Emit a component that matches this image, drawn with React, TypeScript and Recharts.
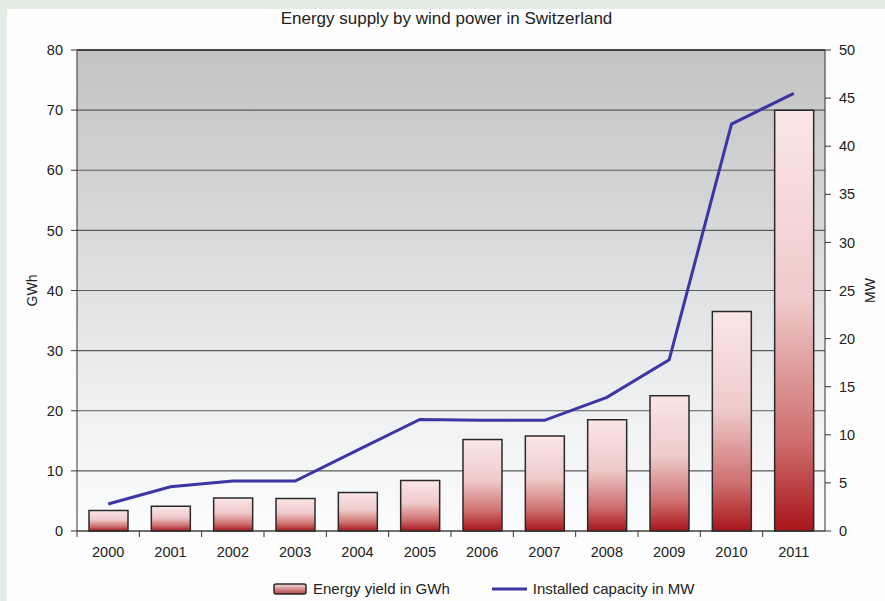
import { ComposedChart, Bar, Line, XAxis, YAxis, CartesianGrid, Legend, ReferenceLine } from 'recharts'

const years = ['2000', '2001', '2002', '2003', '2004', '2005', '2006', '2007', '2008', '2009', '2010', '2011']
const energyGWh = [3.4, 4.1, 5.5, 5.4, 6.4, 8.4, 15.2, 15.8, 18.5, 22.5, 36.5, 70]
const capacityMW = [2.8, 4.6, 5.2, 5.2, 8.4, 11.6, 11.5, 11.5, 13.9, 17.8, 42.3, 45.5]
const gwhTicks = [0, 10, 20, 30, 40, 50, 60, 70, 80]
const mwTicks = [0, 5, 10, 15, 20, 25, 30, 35, 40, 45, 50]

const data = years.map((year, i) => ({
  year,
  energy: energyGWh[i],
  capacity: capacityMW[i],
}))

const W = 885
const H = 601
const MARGIN = { top: 50, right: 0, bottom: 40, left: 17 }
const AXIS_W = 60
const PLOT_W = W - MARGIN.left - MARGIN.right - AXIS_W * 2
const FONT = '"Liberation Sans", Arial, sans-serif'
const TEXT = '#222'
const LINE_BLUE = '#3b36a3'

// year label centred in its band, small tick on the band's left edge
const YearTick = (props: any) => {
  const { x, y, payload } = props
  const band = PLOT_W / years.length
  return (
    <g>
      <line x1={x - band / 2} y1={y - 16} x2={x - band / 2} y2={y - 10} stroke="#333" strokeWidth={1} />
      <text x={x} y={y} dy="0.71em" textAnchor="middle" fill={TEXT} fontSize={14.5} fontFamily={FONT}>
        {payload.value}
      </text>
    </g>
  )
}

const sideLabel = (text: string, shift: number) => (props: any) => {
  const vb = props.viewBox
  const cx = vb.x + shift
  const cy = vb.y + vb.height / 2
  return (
    <text
      x={cx}
      y={cy}
      transform={`rotate(-90 ${cx} ${cy})`}
      textAnchor="middle"
      dominantBaseline="central"
      fill={TEXT}
      fontSize={14}
      fontFamily={FONT}
    >
      {text}
    </text>
  )
}

const renderLegend = () => (
  <div style={{ display: 'flex', alignItems: 'center', fontFamily: FONT, fontSize: 15, color: TEXT, paddingLeft: 273 }}>
    <svg width={34} height={12} style={{ marginRight: 6 }}>
      <rect x={1} y={1} width={32} height={10} rx={2} fill="url(#legendBar)" stroke="#2a2a2a" strokeWidth={1.5} />
    </svg>
    <span style={{ marginRight: 42 }}>Energy yield in GWh</span>
    <svg width={35} height={12} style={{ marginRight: 6 }}>
      <line x1={0} y1={6} x2={35} y2={6} stroke={LINE_BLUE} strokeWidth={3} />
    </svg>
    <span>Installed capacity in MW</span>
  </div>
)

export default function App() {
  return (
    <div style={{ position: 'absolute', left: 0, top: 0, width: W, height: H, background: '#e3ede5', overflow: 'hidden' }}>
      <div style={{ position: 'absolute', left: 7, top: 9, right: 0, bottom: 0, background: '#fdfdfd' }} />
      <svg width={0} height={0} style={{ position: 'absolute' }}>
        <defs>
          <linearGradient id="legendBar" x1="0" y1="0" x2="0" y2="1">
            <stop offset="0%" stopColor="#f6dede" />
            <stop offset="100%" stopColor="#b24040" />
          </linearGradient>
        </defs>
      </svg>
      <div
        style={{
          position: 'absolute',
          left: 0,
          top: 9,
          width: W,
          textAlign: 'center',
          fontFamily: FONT,
          fontSize: 17,
          color: TEXT,
          paddingLeft: 4,
        }}
      >
        Energy supply by wind power in Switzerland
      </div>
      <div style={{ position: 'absolute', left: 0, top: 0 }}>
        <ComposedChart width={W} height={H} data={data} margin={MARGIN} barSize={39}>
          <defs>
            <linearGradient id="plotBg" x1="0" y1="0" x2="0" y2="1">
              <stop offset="0%" stopColor="#c3c3c3" />
              <stop offset="35%" stopColor="#d6d7d8" />
              <stop offset="70%" stopColor="#eceef0" />
              <stop offset="100%" stopColor="#fbfcfd" />
            </linearGradient>
            <linearGradient id="barFill" x1="0" y1="0" x2="0" y2="1">
              <stop offset="0%" stopColor="#fae6e6" />
              <stop offset="45%" stopColor="#efcaca" />
              <stop offset="78%" stopColor="#cf7070" />
              <stop offset="100%" stopColor="#a8151a" />
            </linearGradient>
          </defs>
          <CartesianGrid yAxisId="left" vertical={false} stroke="#5a5a5a" strokeWidth={1.2} fill="url(#plotBg)" fillOpacity={1} />
          <XAxis
            dataKey="year"
            height={30}
            stroke="#333"
            tickLine={false}
            tickSize={6}
            tickMargin={10}
            tick={<YearTick />}
            interval={0}
          />
          <YAxis
            yAxisId="left"
            orientation="left"
            width={AXIS_W}
            domain={[0, 80]}
            ticks={gwhTicks}
            interval={0}
            stroke="#333"
            tickSize={6}
            tickMargin={8}
            tick={{ fill: TEXT, fontSize: 14.5, fontFamily: FONT }}
            label={{ content: sideLabel('GWh', 15) }}
          />
          <YAxis
            yAxisId="right"
            orientation="right"
            width={AXIS_W}
            domain={[0, 50]}
            ticks={mwTicks}
            interval={0}
            stroke="#333"
            tickSize={6}
            tickMargin={8}
            tick={{ fill: TEXT, fontSize: 14.5, fontFamily: FONT }}
            label={{ content: sideLabel('MW', 45) }}
          />
          <ReferenceLine yAxisId="left" y={80} stroke="#2a2a2a" strokeWidth={1.5} />
          <Bar
            yAxisId="left"
            dataKey="energy"
            name="Energy yield in GWh"
            fill="url(#barFill)"
            stroke="#2a2a2a"
            strokeWidth={1.5}
            isAnimationActive={false}
          />
          <Line
            yAxisId="right"
            dataKey="capacity"
            name="Installed capacity in MW"
            type="linear"
            stroke={LINE_BLUE}
            strokeWidth={3}
            dot={false}
            activeDot={false}
            isAnimationActive={false}
          />
          <Legend
            verticalAlign="middle"
            align="center"
            layout="horizontal"
            content={renderLegend}
            wrapperStyle={{ top: 580, left: 0, width: W }}
          />
        </ComposedChart>
      </div>
    </div>
  )
}
